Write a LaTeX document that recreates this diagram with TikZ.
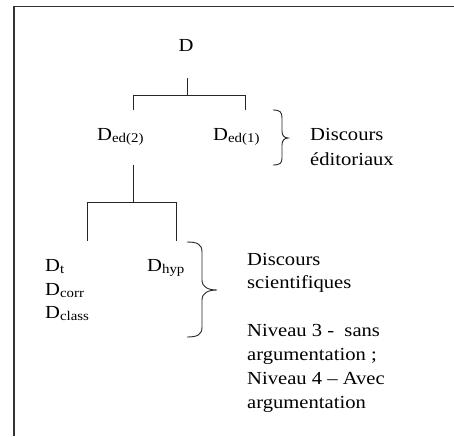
\documentclass[tikz,border=0pt]{standalone}
\usepackage{fontspec}
\setmainfont[FakeStretch=1.12]{Liberation Serif}
% lowered, reduced index after a capital D
\newcommand\idx[1]{\raisebox{-2.5pt}{\fontsize{13.3}{13.3}\selectfont #1}}
\begin{document}
\begin{tikzpicture}[x=1pt,y=-1pt,
  lbl/.style={inner sep=0pt, anchor=base west, font=\fontsize{18.4}{23.8}\selectfont},
  tree/.style={draw=black!85, line width=0.9pt},
  brc/.style={draw=black!85, line width=0.9pt},
  frm/.style={draw=black!80, line width=1.6pt}]
\useasboundingbox (0,0) rectangle (454,436);

% frame (top and left edges)
\coordinate (fb) at (14,436);
\coordinate (fc) at (14,6.5);
\coordinate (fr) at (454,6.5);
\draw[frm] (fb) -- (fc) -- (fr);

% tree labels
\node[lbl, anchor=base] (D) at (186,52) {D};
\node[lbl] (De2) at (97,140) {D\idx{ed(2)}};
\node[lbl] (De1) at (213,140) {D\idx{ed(1)}};
\node[lbl] (Dt) at (45,271) {D\idx{t}};
\node[lbl] (Dcorr) at (45,295) {D\idx{corr}};
\node[lbl] (Dclass) at (45,318) {D\idx{class}};
\node[lbl] (Dhyp) at (147,271) {D\idx{hyp}};

% first fork
\coordinate (t0) at (187,78);
\coordinate (t1) at (187,95);
\coordinate (bL) at (133,95);
\coordinate (bR) at (245,95);
\coordinate (eL) at (133,110);
\coordinate (eR) at (245,110);
\draw[tree] (t0) -- (t1);
\draw[tree] (eL) -- (bL) -- (bR) -- (eR);

% second fork
\coordinate (s0) at (133,165);
\coordinate (s1) at (133,202);
\coordinate (cL) at (87,202);
\coordinate (cR) at (176,202);
\coordinate (gL) at (87,241);
\coordinate (gR) at (176,241);
\draw[tree] (s0) -- (s1);
\draw[tree] (gL) -- (cL) -- (cR) -- (gR);

% braces
\draw[brc] (273,110) .. controls (280,110) and (282,112) .. (282,118) -- (282,131)
  .. controls (282,135) and (284,138) .. (288,138)
  .. controls (284,138) and (282,141) .. (282,145) -- (282,158)
  .. controls (282,163) and (280,165) .. (273,165);
\draw[brc] (187,242) .. controls (197,242) and (202,244) .. (202,252) -- (202,280)
  .. controls (202,287) and (208,290) .. (217,290)
  .. controls (208,290) and (202,293) .. (202,300) -- (202,327)
  .. controls (202,335) and (197,337) .. (187,337);

% side notes
\node[lbl] (n1) at (310,140) {Discours};
\node[lbl] (n2) at (310,165) {éditoriaux};
\begin{scope}
  \clip (240,240) rectangle (454,412);
  \node[lbl] (m1) at (247,265) {Discours};
  \node[lbl] (m2) at (247,288.5) {scientifiques};
  \node[lbl] (m3) at (247,336) {Niveau 3 -\ \ sans};
  \node[lbl] (m4) at (247,360) {argumentation ;};
  \node[lbl] (m5) at (247,384) {Niveau 4 – Avec};
  \node[lbl] (m6) at (247,408) {argumentation};
\end{scope}
\end{tikzpicture}
\end{document}
